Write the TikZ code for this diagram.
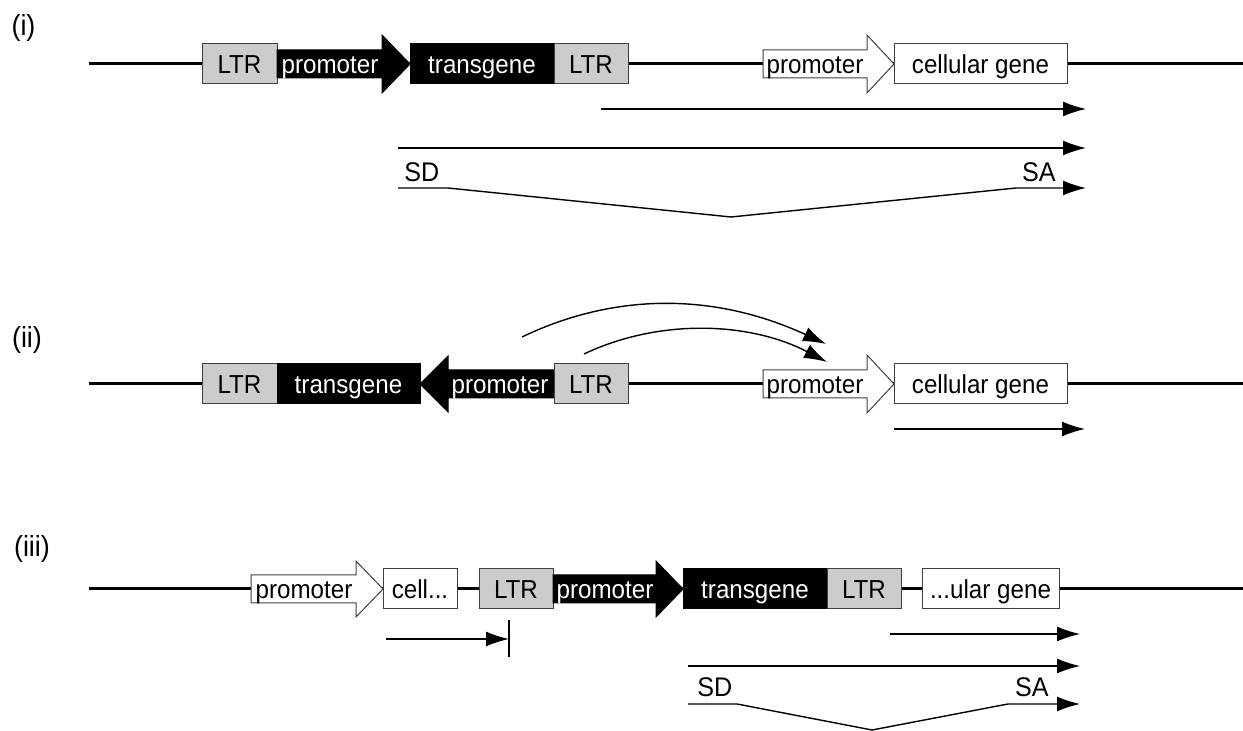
\documentclass[tikz,border=0pt]{standalone}
\usepackage{fontspec}
\setmainfont{Liberation Sans}[FakeStretch=0.93]
\usetikzlibrary{arrows.meta}

\begin{document}
\begin{tikzpicture}[x=0.5pt,y=-0.5pt,
    dna/.style={line width=1.5pt},
    tx/.style={line width=0.7pt,-{Latex[length=11.5pt,width=7.5pt]}},
    lab/.style={inner sep=0pt,text height=9.3pt,text depth=0pt,font=\fontsize{13}{15}\selectfont},
    sds/.style={lab,text height=9.7pt,font=\fontsize{13.5}{16}\selectfont},
    big/.style={lab,text height=10.4pt,font=\fontsize{14.5}{17}\selectfont},
    box/.style={lab,draw=black!75,line width=0.5pt,minimum height=20pt},
    ltr/.style={box,fill=gray!40},
    tgene/.style={box,fill=black,draw=black,text=white},
    cgene/.style={box,fill=white},
    blk/.style={fill=black,draw=black,line width=0.5pt},
    wht/.style={fill=white,draw=black!75,line width=0.5pt}]
  \useasboundingbox (0,0) rectangle (1243,731);

  % (i) forward insertion upstream of the gene
  \node[big] (labA) at (23.5,25.5) {(i)};
  \draw[dna] (89,64) -- (1243,64);
  \node[ltr,minimum width=37.5pt] (ltrA1) at (239.5,64) {LTR};
  \draw[blk] (277,50) -- (382,50) -- (382,35) -- (410,64) -- (382,93) -- (382,78) -- (277,78) -- cycle;
  \node[lab,text=white] (proA) at (330,64) {promoter};
  \node[tgene,minimum width=72pt] (tgA) at (482,64) {transgene};
  \node[ltr,minimum width=37pt] (ltrA2) at (591,64) {LTR};
  \draw[wht] (763,50) -- (867,50) -- (867,35) -- (894,64) -- (867,93) -- (867,78) -- (763,78) -- cycle;
  \node[lab] (cproA) at (815,64) {promoter};
  \node[cgene,minimum width=86.5pt] (cgA) at (980.5,64) {cellular gene};

  \coordinate (a1s) at (601,109);
  \coordinate (a1e) at (1086,109);
  \coordinate (a2s) at (398,148);
  \coordinate (a2e) at (1086,148);
  \coordinate (a3s) at (398,188);
  \coordinate (a3e) at (1086,188);
  \draw[tx] (a1s) -- (a1e);
  \draw[tx] (a2s) -- (a2e);
  \draw[tx] (a3s) -- (448,188) -- (731,217) -- (1016,188) -- (a3e);
  \node[sds,anchor=base west] (sdA) at (404,182) {SD};
  \node[sds,anchor=base east] (saA) at (1056,182) {SA};

  % (ii) reverse insertion, enhancer effect
  \node[big] (labB) at (27,337) {(ii)};
  \draw[dna] (89,384) -- (1243,384);
  \node[ltr,minimum width=37.5pt] (ltrB1) at (239.5,384) {LTR};
  \node[tgene,minimum width=71.5pt] (tgB) at (348.5,384) {transgene};
  \draw[blk] (554,370) -- (448,370) -- (448,356) -- (420,384) -- (448,412) -- (448,398) -- (554,398) -- cycle;
  \node[lab,text=white] (proB) at (500,384) {promoter};
  \node[ltr,minimum width=37pt] (ltrB2) at (591,384) {LTR};
  \draw[wht] (763,370) -- (867,370) -- (867,355) -- (894,384) -- (867,413) -- (867,398) -- (763,398) -- cycle;
  \node[lab] (cproB) at (815,384) {promoter};
  \node[cgene,minimum width=86.5pt] (cgB) at (980.5,384) {cellular gene};

  \coordinate (e1s) at (522,337);
  \coordinate (e1e) at (826,344);
  \coordinate (e2s) at (584,354);
  \coordinate (e2e) at (827,362);
  \draw[tx] (e1s) .. controls (620,290) and (720,295) .. (e1e);
  \draw[tx] (e2s) .. controls (660,318) and (750,322) .. (e2e);
  \coordinate (b1s) at (894,429);
  \coordinate (b1e) at (1085,429);
  \draw[tx] (b1s) -- (b1e);

  % (iii) insertion inside the gene
  \node[big] (labC) at (32,546) {(iii)};
  \draw[dna] (89,589) -- (1243,589);
  \draw[wht] (251,575) -- (356,575) -- (356,561) -- (383,589) -- (356,617) -- (356,603) -- (251,603) -- cycle;
  \node[lab] (cproC) at (304,589) {promoter};
  \node[cgene,minimum width=37pt] (cgC1) at (420,589) {cell...};
  \node[ltr,minimum width=37pt] (ltrC1) at (516,589) {LTR};
  \draw[blk] (553,575) -- (656,575) -- (656,561) -- (683,589) -- (656,617) -- (656,603) -- (553,603) -- cycle;
  \node[lab,text=white] (proC) at (605,589) {promoter};
  \node[tgene,minimum width=72pt] (tgC) at (755,589) {transgene};
  \node[ltr,minimum width=37pt] (ltrC2) at (864,589) {LTR};
  \node[cgene,minimum width=68.5pt] (cgC2) at (990.5,589) {...ular gene};

  \coordinate (c0s) at (386,639);
  \coordinate (c0e) at (509,639);
  \draw[tx] (c0s) -- (c0e);
  \draw[line width=0.7pt] (509,620) -- (509,657);
  \coordinate (c1s) at (890,634);
  \coordinate (c1e) at (1080,634);
  \coordinate (c2s) at (688,666);
  \coordinate (c2e) at (1080,666);
  \coordinate (c3s) at (688,704);
  \coordinate (c3e) at (1080,704);
  \draw[tx] (c1s) -- (c1e);
  \draw[tx] (c2s) -- (c2e);
  \draw[tx] (c3s) -- (737,704) -- (872,730) -- (1008,704) -- (c3e);
  \node[sds,anchor=base west] (sdC) at (697,697) {SD};
  \node[sds,anchor=base east] (saC) at (1049,697) {SA};
\end{tikzpicture}
\end{document}
